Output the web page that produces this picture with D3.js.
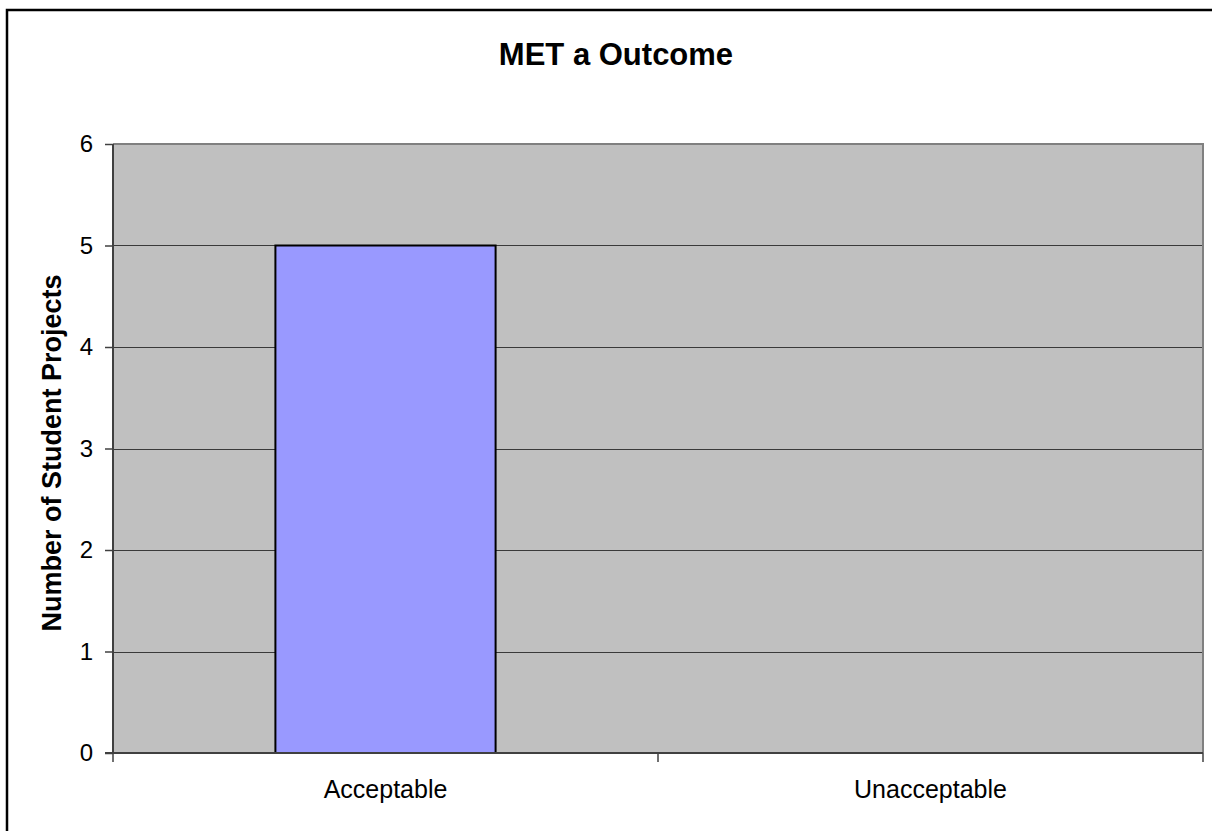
<!DOCTYPE html>
<html><head><meta charset="utf-8">
<script src="https://cdn.jsdelivr.net/npm/d3@7"></script>
<style>html,body{margin:0;padding:0;background:#fff;overflow:hidden}</style>
</head><body>
<script>
const title = "MET a Outcome";
const yAxisTitle = "Number of Student Projects";
const categories = ["Acceptable", "Unacceptable"];
const values = [5, 0];
const yTicks = [0, 1, 2, 3, 4, 5, 6];

const W = 1212, H = 831;
const svg = d3.select("body").append("svg").attr("width", W).attr("height", H)
  .style("font-family", "'Liberation Sans', Arial, sans-serif");

// outer border
svg.append("rect").attr("x", 7).attr("y", 10).attr("width", W + 20).attr("height", H + 20)
  .attr("fill", "#fff").attr("stroke", "#000").attr("stroke-width", 2.5);

const L = 113, R = 1203, T = 144, B = 753;
const xb = d3.scaleBand().domain(categories).range([L, R]);
const y = d3.scaleLinear().domain([0, 6]).range([B, T]);

svg.append("rect").attr("x", L).attr("y", T).attr("width", R - L).attr("height", B - T)
  .attr("fill", "#C0C0C0");

// gridlines
svg.append("g").selectAll("line").data(yTicks.filter(d => d > 0 && d < 6)).join("line")
  .attr("x1", L).attr("x2", R).attr("y1", d => Math.round(y(d)) + 0.5).attr("y2", d => Math.round(y(d)) + 0.5)
  .attr("stroke", "#3a3a3a").attr("stroke-width", 1);

// plot border top/right
svg.append("path").attr("d", `M${L},${T}H${R}V${B}`).attr("fill", "none")
  .attr("stroke", "#808080").attr("stroke-width", 2);

// bars
const bw = xb.bandwidth() * 0.404;
svg.append("g").selectAll("rect").data(values.map((v, i) => ({c: categories[i], v})).filter(d => d.v > 0)).join("rect")
  .attr("x", d => xb(d.c) + (xb.bandwidth() - bw) / 2)
  .attr("width", bw)
  .attr("y", d => y(d.v)).attr("height", d => y(0) - y(d.v))
  .attr("fill", "#9999FF").attr("stroke", "#000").attr("stroke-width", 2);

// y axis
const yAxis = d3.axisLeft(y).tickValues(yTicks).tickSize(8).tickPadding(12).tickFormat(d3.format("d"));
const gy = svg.append("g").attr("transform", `translate(${L},0)`).call(yAxis);
gy.select(".domain").attr("stroke", "#404040").attr("stroke-width", 2).attr("d", `M0,${T}V${B}`);
gy.selectAll(".tick line").attr("stroke", "#404040").attr("stroke-width", 1.5);
gy.selectAll(".tick text").attr("font-size", 24).attr("fill", "#000").attr("font-family", "'Liberation Sans', Arial, sans-serif");

// x axis
const xAxis = d3.axisBottom(xb).tickSize(0).tickPadding(0);
const gx = svg.append("g").attr("transform", `translate(0,${B})`).call(xAxis);
gx.select(".domain").attr("stroke", "#404040").attr("stroke-width", 2).attr("d", `M${L - 8},0H${R}`);
gx.selectAll(".tick text").attr("font-size", 25).attr("fill", "#000").attr("dy", null).attr("y", 45)
  .attr("font-family", "'Liberation Sans', Arial, sans-serif");
// category boundary ticks
const bounds = [L, ...categories.map(c => xb(c) + xb.bandwidth())];
gx.append("g").selectAll("line").data(bounds).join("line")
  .attr("x1", d => d).attr("x2", d => d).attr("y1", 0).attr("y2", 9)
  .attr("stroke", "#404040").attr("stroke-width", 1.5);

// title
svg.append("text").attr("x", 616).attr("y", 65).attr("text-anchor", "middle")
  .attr("font-size", 31).attr("font-weight", "bold").text(title);

// y axis title
svg.append("text").attr("transform", `translate(61,453) rotate(-90)`).attr("text-anchor", "middle")
  .attr("font-size", 27).attr("font-weight", "bold").text(yAxisTitle);
</script>
</body></html>
